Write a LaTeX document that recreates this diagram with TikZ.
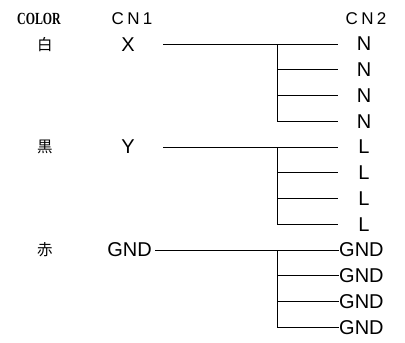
\documentclass[tikz,border=0pt]{standalone}
\usepackage{fontspec}
\usepackage{graphicx}
\setmainfont{Liberation Sans}
\newfontfamily\cjk{Noto Sans CJK JP}
\newfontfamily\hdrserif{Liberation Serif}
\newfontfamily\spaced[LetterSpace=20]{Liberation Sans}
\begin{document}
\begin{tikzpicture}[x=1pt,y=-1pt,
  lbl/.style={inner sep=0pt,font=\fontsize{20}{20}\selectfont},
  jp/.style={inner sep=0pt,font=\cjk\fontsize{15.5}{15.5}\selectfont},
  hdr/.style={inner sep=0pt,font=\spaced\fontsize{17}{17}\selectfont},
  wire/.style={line width=0.9pt}]
\useasboundingbox (0,0) rectangle (405,343);
% headers
\node[inner sep=0pt,font=\hdrserif\bfseries\fontsize{17}{17}\selectfont] (color) at (39,19) {\scalebox{0.7}[1]{COLOR}};
\node[hdr] (cn1) at (132,19) {CN1};
\node[hdr] (cn2) at (366,19) {CN2};
% colours
\node[jp] (c1) at (45,45) {白};
\node[jp] (c2) at (45,147) {黒};
\node[jp] (c3) at (45,250) {赤};
% CN1 pins
\node[lbl] (x) at (128,45) {X};
\node[lbl] (y) at (128,147) {Y};
\node[lbl] (g) at (129.5,250) {GND};
% CN2 pins
\foreach \i/\t [count=\k from 0] in {1/N,2/N,3/N,4/N,5/L,6/L,7/L,8/L}{
  \node[lbl] (r\i) at (364,44+25.75*\k) {\t};
  \coordinate (e\i) at (338,44+25.75*\k);
}
\foreach \i [count=\k from 8] in {9,10,11,12}{
  \node[lbl,anchor=west] (r\i) at (339,44+25.75*\k) {GND};
  \coordinate (e\i) at (339,44+25.75*\k);
}
% start points and junctions
\coordinate (s1) at (163,44);
\coordinate (s5) at (163,147);
\coordinate (s9) at (155,250);
\coordinate (j1) at (277,44);
\coordinate (j5) at (277,147);
\coordinate (j9) at (277,250);
% wires
\draw[wire] (s1) -- (e1);
\draw[wire] (j1) |- (e4);
\draw[wire] (j1 |- e2) -- (e2);
\draw[wire] (j1 |- e3) -- (e3);
\draw[wire] (s5) -- (e5);
\draw[wire] (j5) |- (e8);
\draw[wire] (j5 |- e6) -- (e6);
\draw[wire] (j5 |- e7) -- (e7);
\draw[wire] (s9) -- (e9);
\draw[wire] (j9) |- (e12);
\draw[wire] (j9 |- e10) -- (e10);
\draw[wire] (j9 |- e11) -- (e11);
\end{tikzpicture}
\end{document}
